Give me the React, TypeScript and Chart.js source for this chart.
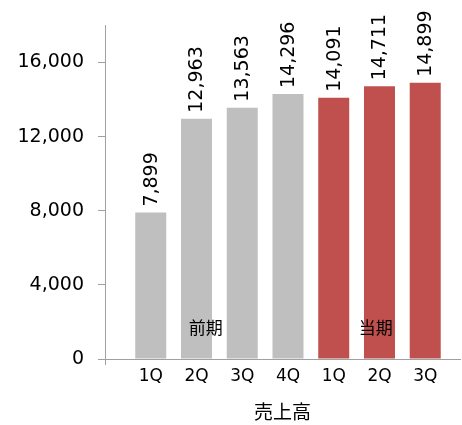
import React, { useEffect, useRef } from "react";
import { Chart, registerables } from "chart.js";

Chart.register(...registerables);

const categories = ["1Q", "2Q", "3Q", "4Q", "1Q", "2Q", "3Q"];
const sales = [7899, 12963, 13563, 14296, 14091, 14711, 14899];
const periodOf = ["前期", "前期", "前期", "前期", "当期", "当期", "当期"];
const periodLabels = ["前期", "当期"];
const yTicks = [0, 4000, 8000, 12000, 16000];
const axisTitle = "売上高";

const GRAY = "#bfbfbf";
const RED = "#c0504d";
const AXIS = "#a0a0a0";
const FONT = '"DejaVu Sans", "Noto Sans CJK JP", sans-serif';

export default function App() {
  const ref = useRef<HTMLCanvasElement | null>(null);

  useEffect(() => {
    if (!ref.current) return;
    const barColors = periodOf.map((p) => (p === periodLabels[0] ? GRAY : RED));

    const labelPlugin = {
      id: "valueLabels",
      afterDatasetsDraw(chart: any) {
        const ctx = chart.ctx;
        const meta = chart.getDatasetMeta(0);
        ctx.save();
        ctx.fillStyle = "#000";
        ctx.font = `19px ${FONT}`;
        meta.data.forEach((bar: any, i: number) => {
          ctx.save();
          ctx.translate(bar.x + 1, bar.y - 6);
          ctx.rotate(-Math.PI / 2);
          ctx.textAlign = "left";
          ctx.textBaseline = "middle";
          ctx.fillText(sales[i].toLocaleString("en-US"), 0, 0);
          ctx.restore();
        });
        const xs = chart.scales.x;
        const ys = chart.scales.y;
        ctx.font = `17px ${FONT}`;
        ctx.textAlign = "center";
        ctx.textBaseline = "middle";
        const yPos = ys.getPixelForValue(0) - 29;
        ctx.fillText(periodLabels[0], xs.getPixelForValue(2.2), yPos);
        ctx.fillText(periodLabels[1], xs.getPixelForValue(5.92), yPos);
        ctx.restore();
      },
    };

    const chart = new Chart(ref.current, {
      type: "bar",
      data: {
        datasets: [
          {
            data: sales.map((v, i) => ({ x: i + 1, y: v })) as any,
            backgroundColor: barColors,
            barThickness: 31,
            borderWidth: 0,
            inflateAmount: 0,
          } as any,
        ],
      },
      options: {
        animation: false,
        responsive: false,
        maintainAspectRatio: false,
        layout: { padding: { top: 25, right: 2, left: 0, bottom: 0 } },
        plugins: {
          legend: { display: false },
          tooltip: { enabled: false },
        },
        scales: {
          x: {
            type: "linear",
            offset: false,
            min: 0,
            max: 7.76,
            afterFit(scale: any) {
              scale.height = 66;
            },
            ticks: {
              stepSize: 1,
              includeBounds: false,
              autoSkip: false,
              maxRotation: 0,
              padding: 1,
              color: "#000",
              font: { family: FONT, size: 17 },
              callback: (value: any) => {
                const v = Number(value);
                if (Number.isInteger(v) && v >= 1 && v <= categories.length) return categories[v - 1];
                return "";
              },
            },
            grid: {
              offset: false,
              drawOnChartArea: false,
              drawTicks: true,
              tickLength: 6,
              tickColor: (c: any) => (c.tick && c.tick.value === 0 ? AXIS : "rgba(0,0,0,0)"),
            },
            border: { display: true, color: AXIS, width: 1 },
            title: {
              display: true,
              text: axisTitle,
              color: "#000",
              font: { family: FONT, size: 19 },
              padding: { top: 0, bottom: 0 },
            },
          },
          y: {
            min: 0,
            max: 18000,
            afterFit(scale: any) {
              scale.width = 105;
            },
            afterBuildTicks(scale: any) {
              scale.ticks = yTicks.map((v) => ({ value: v }));
            },
            ticks: {
              padding: 14,
              color: "#000",
              font: { family: FONT, size: 19 },
              callback: (value: any) => Number(value).toLocaleString("en-US"),
            },
            grid: {
              drawOnChartArea: false,
              drawTicks: true,
              tickLength: 7,
              tickColor: AXIS,
            },
            border: { display: true, color: AXIS, width: 1 },
          },
        },
      },
      plugins: [labelPlugin],
    });
    return () => chart.destroy();
  }, []);

  return (
    <div style={{ position: "absolute", left: 0, top: 0, width: 462, height: 425, background: "#fff" }}>
      <canvas ref={ref} width={462} height={425} style={{ display: "block" }} />
    </div>
  );
}
